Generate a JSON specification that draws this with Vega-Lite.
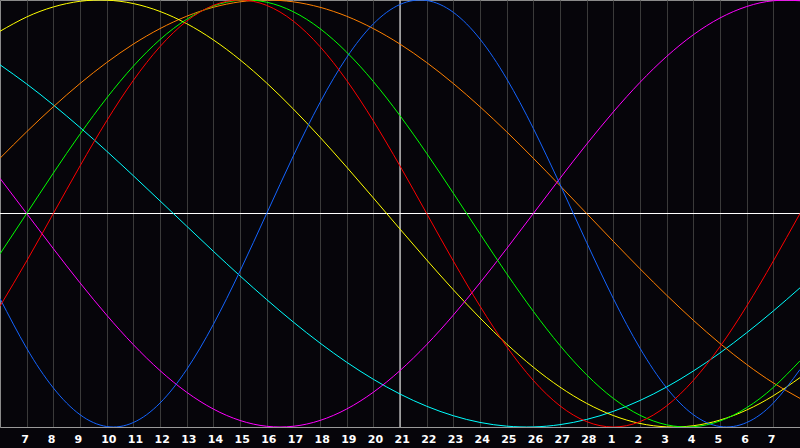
{
  "$schema": "https://vega.github.io/schema/vega-lite/v6.json",
  "width": 800,
  "height": 427,
  "autosize": {"type": "none"},
  "padding": {"left": 0, "top": 0, "right": 0, "bottom": 21},
  "background": "#06050a",
  "config": {
    "view": {"stroke": "#8a8a8a", "strokeWidth": 1},
    "axisX": {
      "grid": true,
      "gridColor": "#3a3a3a",
      "gridWidth": 1,
      "domainColor": "#9a9a9a",
      "domainWidth": 1,
      "ticks": false,
      "labelColor": "#ffffff",
      "labelFont": "DejaVu Sans",
      "labelFontSize": 11,
      "labelFontWeight": "bold",
      "labelPadding": 6,
      "labelAlign": "left",
      "labelOffset": -6,
      "labelOverlap": false,
      "labelBound": false,
      "labelFlush": false
    }
  },
  "layer": [
    {
      "data": {"values": [{}]},
      "mark": {"type": "rule", "color": "#ffffff", "strokeWidth": 1},
      "encoding": {"y": {"datum": 0, "type": "quantitative", "axis": null}}
    },
    {
      "data": {"values": [{}]},
      "mark": {"type": "rule", "color": "#ffffff", "strokeWidth": 1},
      "encoding": {
        "x": {
          "datum": 15,
          "type": "quantitative",
          "title": null,
          "axis": {
            "values": [1, 2, 3, 4, 5, 6, 7, 8, 9, 10, 11, 12, 13, 14, 15, 16, 17, 18, 19, 20, 21, 22, 23, 24, 25, 26, 27, 28, 29],
            "labelOverlap": false,
            "labelExpr": "datum.value <= 22 ? '' + (datum.value + 6) : '' + (datum.value - 22)"
          }
        }
      }
    },
    {
      "data": {
        "values": [
          {"d": 0, "p": -0.3984, "e": -0.4339, "i": -0.1893, "u": 0.1646, "a": 0.8535, "w": 0.2588, "s": 0.6966},
          {"d": 1, "p": -0.6311, "e": -0.2225, "i": 0, "u": 0, "a": 0.9205, "w": 0.3827, "s": 0.6068},
          {"d": 2, "p": -0.8170, "e": 0, "i": 0.1893, "u": -0.1646, "a": 0.9675, "w": 0.5, "s": 0.5085},
          {"d": 3, "p": -0.9423, "e": 0.2225, "i": 0.3717, "u": -0.3247, "a": 0.9940, "w": 0.6088, "s": 0.4031},
          {"d": 4, "p": -0.9977, "e": 0.4339, "i": 0.5406, "u": -0.4759, "a": 0.9993, "w": 0.7071, "s": 0.2921},
          {"d": 5, "p": -0.9791, "e": 0.6235, "i": 0.6901, "u": -0.6142, "a": 0.9834, "w": 0.7934, "s": 0.1769},
          {"d": 6, "p": -0.8879, "e": 0.7818, "i": 0.8146, "u": -0.7357, "a": 0.9464, "w": 0.8660, "s": 0.0592},
          {"d": 7, "p": -0.7308, "e": 0.9010, "i": 0.9096, "u": -0.8372, "a": 0.8893, "w": 0.9239, "s": -0.0592},
          {"d": 8, "p": -0.5196, "e": 0.9749, "i": 0.9718, "u": -0.9158, "a": 0.8133, "w": 0.9659, "s": -0.1769},
          {"d": 9, "p": -0.2698, "e": 1, "i": 0.9989, "u": -0.9694, "a": 0.7199, "w": 0.9914, "s": -0.2921},
          {"d": 10, "p": 0, "e": 0.9749, "i": 0.9898, "u": -0.9966, "a": 0.6112, "w": 1, "s": -0.4031},
          {"d": 11, "p": 0.2698, "e": 0.9010, "i": 0.9450, "u": -0.9966, "a": 0.4894, "w": 0.9914, "s": -0.5085},
          {"d": 12, "p": 0.5196, "e": 0.7818, "i": 0.8660, "u": -0.9694, "a": 0.3573, "w": 0.9659, "s": -0.6068},
          {"d": 13, "p": 0.7308, "e": 0.6235, "i": 0.7557, "u": -0.9158, "a": 0.2174, "w": 0.9239, "s": -0.6966},
          {"d": 14, "p": 0.8879, "e": 0.4339, "i": 0.6182, "u": -0.8372, "a": 0.0730, "w": 0.8660, "s": -0.7765},
          {"d": 15, "p": 0.9791, "e": 0.2225, "i": 0.4582, "u": -0.7357, "a": -0.0730, "w": 0.7934, "s": -0.8456},
          {"d": 16, "p": 0.9977, "e": 0, "i": 0.2817, "u": -0.6142, "a": -0.2174, "w": 0.7071, "s": -0.9028},
          {"d": 17, "p": 0.9423, "e": -0.2225, "i": 0.0951, "u": -0.4759, "a": -0.3573, "w": 0.6088, "s": -0.9473},
          {"d": 18, "p": 0.8170, "e": -0.4339, "i": -0.0951, "u": -0.3247, "a": -0.4894, "w": 0.5, "s": -0.9786},
          {"d": 19, "p": 0.6311, "e": -0.6235, "i": -0.2817, "u": -0.1646, "a": -0.6112, "w": 0.3827, "s": -0.9960},
          {"d": 20, "p": 0.3984, "e": -0.7818, "i": -0.4582, "u": 0, "a": -0.7199, "w": 0.2588, "s": -0.9996},
          {"d": 21, "p": 0.1362, "e": -0.9010, "i": -0.6182, "u": 0.1646, "a": -0.8133, "w": 0.1305, "s": -0.9890},
          {"d": 22, "p": -0.1362, "e": -0.9749, "i": -0.7557, "u": 0.3247, "a": -0.8893, "w": 0, "s": -0.9646},
          {"d": 23, "p": -0.3984, "e": -1, "i": -0.8660, "u": 0.4759, "a": -0.9464, "w": -0.1305, "s": -0.9267},
          {"d": 24, "p": -0.6311, "e": -0.9749, "i": -0.9450, "u": 0.6142, "a": -0.9834, "w": -0.2588, "s": -0.8757},
          {"d": 25, "p": -0.8170, "e": -0.9010, "i": -0.9898, "u": 0.7357, "a": -0.9993, "w": -0.3827, "s": -0.8125},
          {"d": 26, "p": -0.9423, "e": -0.7818, "i": -0.9989, "u": 0.8372, "a": -0.9940, "w": -0.5, "s": -0.7378},
          {"d": 27, "p": -0.9977, "e": -0.6235, "i": -0.9718, "u": 0.9158, "a": -0.9675, "w": -0.6088, "s": -0.6529},
          {"d": 28, "p": -0.9791, "e": -0.4339, "i": -0.9096, "u": 0.9694, "a": -0.9205, "w": -0.7071, "s": -0.5586},
          {"d": 29, "p": -0.8879, "e": -0.2225, "i": -0.8146, "u": 0.9966, "a": -0.8535, "w": -0.7934, "s": -0.4566},
          {"d": 30, "p": -0.7308, "e": 0, "i": -0.6901, "u": 0.9966, "a": -0.7687, "w": -0.8660, "s": -0.3482}
        ]
      },
      "transform": [{"fold": ["s", "w", "a", "u", "p", "i", "e"], "as": ["cycle", "v"]}],
      "mark": {"type": "line", "interpolate": "natural", "strokeWidth": 1, "clip": true},
      "encoding": {
        "x": {
          "field": "d",
          "type": "quantitative",
          "scale": {"domain": [0, 30], "nice": false, "zero": false},
          "title": null,
          "axis": {
            "values": [1, 2, 3, 4, 5, 6, 7, 8, 9, 10, 11, 12, 13, 14, 15, 16, 17, 18, 19, 20, 21, 22, 23, 24, 25, 26, 27, 28, 29],
            "labelOverlap": false,
            "labelExpr": "datum.value <= 22 ? '' + (datum.value + 6) : '' + (datum.value - 22)"
          }
        },
        "y": {
          "field": "v",
          "type": "quantitative",
          "scale": {"domain": [-1, 1], "nice": false, "zero": false},
          "axis": null
        },
        "color": {
          "field": "cycle",
          "type": "nominal",
          "scale": {
            "domain": ["p", "e", "i", "u", "a", "w", "s"],
            "range": ["#1464ff", "#ff0000", "#00ff00", "#ff00ff", "#ffff00", "#ff8000", "#00ffff"]
          },
          "legend": null
        },
        "order": {"field": "cycle"}
      }
    }
  ]
}
